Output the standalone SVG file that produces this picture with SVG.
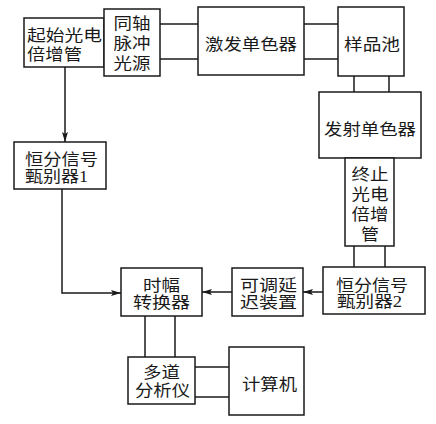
<svg xmlns="http://www.w3.org/2000/svg" width="436" height="424" viewBox="0 0 436 424">
<style>
.b{fill:#fff;stroke:#1a1a1a;stroke-width:1.5}
.l{fill:none;stroke:#1a1a1a;stroke-width:1.5}
text{font-family:"Liberation Serif","Noto Sans CJK SC",serif;font-size:16px;fill:#1a1a1a}
</style>
<defs>
<marker id="a" viewBox="0 0 10 6" refX="10" refY="3" markerWidth="10" markerHeight="6" markerUnits="userSpaceOnUse" orient="auto">
<path d="M0,0 L10,3 L0,6 L2,3 Z" fill="#1a1a1a"/>
</marker>
</defs>
<g id="connectors">
<line class="l" x1="160" y1="24" x2="198" y2="24"/>
<line class="l" x1="160" y1="59" x2="198" y2="59"/>
<line class="l" x1="304" y1="24" x2="338" y2="24"/>
<line class="l" x1="304" y1="59" x2="338" y2="59"/>
<line class="l" x1="354" y1="76" x2="354" y2="92"/>
<line class="l" x1="389" y1="76" x2="389" y2="92"/>
<line class="l" x1="354" y1="246" x2="354" y2="267"/>
<line class="l" x1="385" y1="246" x2="385" y2="267"/>
<line class="l" x1="65" y1="67" x2="65" y2="142" marker-end="url(#a)"/>
<polyline class="l" points="62,189 62,293 121,293" marker-end="url(#a)"/>
<line class="l" x1="323" y1="292" x2="303" y2="292" marker-end="url(#a)"/>
<line class="l" x1="232" y1="292" x2="202" y2="292" marker-end="url(#a)"/>
<line class="l" x1="145" y1="316" x2="145" y2="357"/>
<line class="l" x1="175" y1="316" x2="175" y2="357"/>
<line class="l" x1="195" y1="367" x2="229" y2="367"/>
<line class="l" x1="195" y1="397" x2="229" y2="397"/>
</g>
<g id="start-pmt"><rect class="b" x="24" y="18" width="80" height="49"/><text x="27" y="40.5" textLength="75" lengthAdjust="spacingAndGlyphs">起始光电</text><text x="27" y="60" textLength="55" lengthAdjust="spacingAndGlyphs">倍增管</text></g>
<g id="pulse-source"><rect class="b" x="104" y="9" width="56" height="67"/><text x="113.5" y="29" textLength="37" lengthAdjust="spacingAndGlyphs">同轴</text><text x="113.5" y="49" textLength="37" lengthAdjust="spacingAndGlyphs">脉冲</text><text x="113.5" y="69" textLength="37" lengthAdjust="spacingAndGlyphs">光源</text></g>
<g id="excitation-mono"><rect class="b" x="198" y="7" width="106" height="68"/><text x="205" y="50" textLength="92" lengthAdjust="spacingAndGlyphs">激发单色器</text></g>
<g id="sample-cell"><rect class="b" x="338" y="7" width="66" height="69"/><text x="344" y="50" textLength="56" lengthAdjust="spacingAndGlyphs">样品池</text></g>
<g id="emission-mono"><rect class="b" x="319" y="92" width="102" height="66"/><text x="324" y="135" textLength="92" lengthAdjust="spacingAndGlyphs">发射单色器</text></g>
<g id="stop-pmt"><rect class="b" x="345" y="158" width="49" height="88"/><text x="351.5" y="180" textLength="37" lengthAdjust="spacingAndGlyphs">终止</text><text x="351.5" y="200" textLength="37" lengthAdjust="spacingAndGlyphs">光电</text><text x="351.5" y="220" textLength="37" lengthAdjust="spacingAndGlyphs">倍增</text><text x="361" y="240" textLength="18" lengthAdjust="spacingAndGlyphs">管</text></g>
<g id="cfd2"><rect class="b" x="323" y="267" width="102" height="47"/><text x="336" y="290.5" textLength="72" lengthAdjust="spacingAndGlyphs">恒分信号</text><text x="337" y="306.5" textLength="65" lengthAdjust="spacingAndGlyphs">甄别器2</text></g>
<g id="cfd1"><rect class="b" x="14" y="142" width="92" height="47"/><text x="25" y="164.5" textLength="73" lengthAdjust="spacingAndGlyphs">恒分信号</text><text x="25" y="181.5" textLength="63" lengthAdjust="spacingAndGlyphs">甄别器1</text></g>
<g id="tac"><rect class="b" x="121" y="268" width="81" height="48"/><text x="143" y="291" textLength="37" lengthAdjust="spacingAndGlyphs">时幅</text><text x="133" y="308" textLength="57" lengthAdjust="spacingAndGlyphs">转换器</text></g>
<g id="delay"><rect class="b" x="232" y="268" width="71" height="48"/><text x="240" y="291" textLength="57" lengthAdjust="spacingAndGlyphs">可调延</text><text x="240" y="308" textLength="57" lengthAdjust="spacingAndGlyphs">迟装置</text></g>
<g id="mca"><rect class="b" x="128" y="357" width="67" height="47"/><text x="143" y="378" textLength="37" lengthAdjust="spacingAndGlyphs">多道</text><text x="135" y="396" textLength="55" lengthAdjust="spacingAndGlyphs">分析仪</text></g>
<g id="computer"><rect class="b" x="229" y="347" width="75" height="68"/><text x="242" y="390" textLength="55" lengthAdjust="spacingAndGlyphs">计算机</text></g>
</svg>
